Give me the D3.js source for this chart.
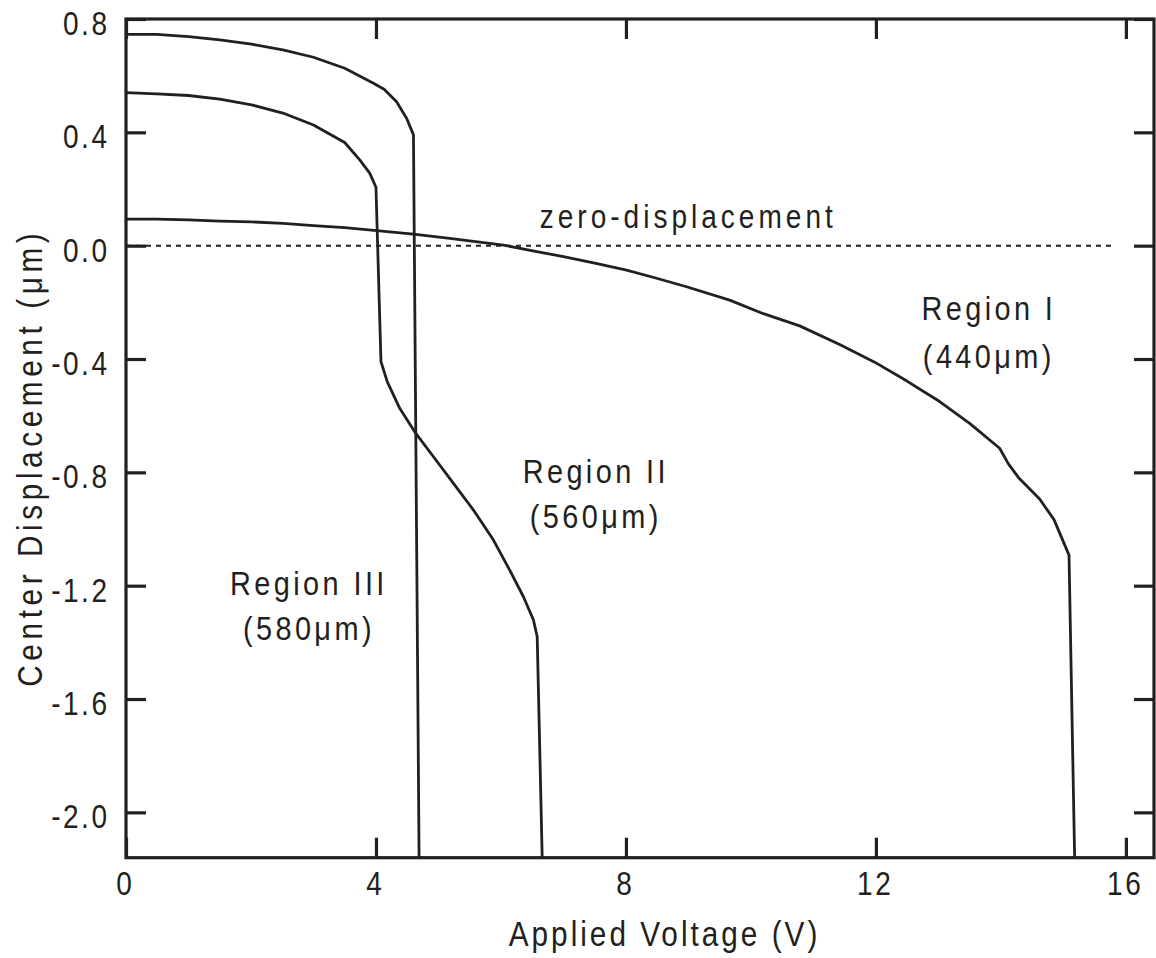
<!DOCTYPE html>
<html>
<head>
<meta charset="utf-8">
<script src="https://cdn.jsdelivr.net/npm/d3@7"></script>
<style>
  body { margin: 0; background: #fff; }
</style>
</head>
<body>
<svg id="chart"></svg>
<script>
// Tick values
var xTicks = [0, 4, 8, 12, 16];
var yTicks = [0.8, 0.4, 0.0, -0.4, -0.8, -1.2, -1.6, -2.0];

// Region I (440um)
var voltsI = [0, 0.49, 1.0, 1.5, 2.01, 2.51, 3.0, 3.5, 4.01, 4.6, 5.18, 6.04, 6.51, 7.0, 7.5, 8.01, 8.49, 8.97, 9.66, 10.2, 10.78, 11.42, 11.98, 12.49, 13.02, 13.5, 13.98, 14.12, 14.28, 14.62, 14.85, 15.09, 15.18];
var dispI  = [0.094, 0.094, 0.091, 0.087, 0.084, 0.079, 0.071, 0.064, 0.053, 0.041, 0.026, 0.002, -0.018, -0.039, -0.062, -0.086, -0.115, -0.145, -0.192, -0.24, -0.283, -0.349, -0.411, -0.477, -0.550, -0.627, -0.715, -0.770, -0.818, -0.894, -0.967, -1.092, -2.16];

// Region II (560um)
var voltsII = [0, 0.49, 1.0, 1.5, 2.01, 2.51, 3.0, 3.5, 3.74, 3.9, 4.0, 4.08, 4.18, 4.38, 4.62, 4.92, 5.24, 5.56, 5.88, 6.14, 6.36, 6.52, 6.58, 6.66];
var dispII  = [0.540, 0.536, 0.530, 0.517, 0.497, 0.468, 0.426, 0.364, 0.303, 0.256, 0.206, -0.409, -0.480, -0.574, -0.657, -0.745, -0.839, -0.933, -1.039, -1.145, -1.239, -1.321, -1.380, -2.16];

// Region III (580um)
var voltsIII = [0, 0.49, 1.0, 1.5, 2.01, 2.51, 3.0, 3.5, 3.96, 4.13, 4.33, 4.49, 4.6, 4.69];
var dispIII  = [0.746, 0.746, 0.738, 0.726, 0.711, 0.691, 0.665, 0.626, 0.573, 0.552, 0.508, 0.450, 0.391, -2.16];

var ink = "#231f20";
var font = "'Liberation Sans', Arial, Helvetica, sans-serif";
var squeeze = 0.85; // narrow look of the original lettering

var width = 1156, height = 958;
var plotL = 126, plotR = 1154, plotT = 19, plotB = 857.7;

var svg = d3.select("#chart").attr("width", width).attr("height", height);

var x = d3.scaleLinear().domain([0, 16.45]).range([plotL, plotR]);
var y = d3.scaleLinear().domain([-2.16, 0.8]).range([plotB, plotT]);

// narrow text helper: size, spacing in screen px
function label(px, py, str, size, spacing, anchor, rotate) {
    var g = svg.append("g")
        .attr("transform", "translate(" + px + "," + py + ")" + (rotate ? " rotate(" + rotate + ")" : "") + " scale(" + squeeze + ",1)");
    g.append("text")
        .attr("x", anchor === "middle" ? spacing / (2 * squeeze) : (anchor === "end" ? spacing / squeeze : 0))
        .attr("text-anchor", anchor)
        .attr("font-family", font)
        .attr("font-size", size)
        .attr("letter-spacing", spacing / squeeze)
        .attr("fill", ink)
        .text(str);
}

svg.append("clipPath").attr("id", "plot-clip")
    .append("rect").attr("x", plotL).attr("y", plotT).attr("width", plotR - plotL).attr("height", plotB - plotT);

// zero-displacement dotted line
svg.append("line")
    .attr("x1", x(0)).attr("x2", x(15.78))
    .attr("y1", y(0)).attr("y2", y(0))
    .attr("stroke", ink).attr("stroke-width", 2)
    .attr("stroke-dasharray", "5,5");

// curves
var line = d3.line()
    .x(function (d) { return x(d[0]); })
    .y(function (d) { return y(d[1]); });

[[voltsI, dispI], [voltsII, dispII], [voltsIII, dispIII]].forEach(function (s) {
    svg.append("path")
        .datum(d3.zip(s[0], s[1]))
        .attr("clip-path", "url(#plot-clip)")
        .attr("d", line)
        .attr("fill", "none")
        .attr("stroke", ink)
        .attr("stroke-width", 2.8)
        .attr("stroke-linejoin", "round");
});

// axes: ticks inward on all four sides, labels only bottom / left
var tickLen = 20;
var axes = [
    d3.axisBottom(x).tickValues(xTicks).tickSizeInner(-tickLen).tickSizeOuter(0).tickFormat(""),
    d3.axisTop(x).tickValues(xTicks).tickSizeInner(-tickLen).tickSizeOuter(0).tickFormat(""),
    d3.axisLeft(y).tickValues(yTicks).tickSizeInner(-tickLen).tickSizeOuter(0).tickFormat(""),
    d3.axisRight(y).tickValues(yTicks).tickSizeInner(-tickLen).tickSizeOuter(0).tickFormat("")
];
var shifts = ["0," + plotB, "0," + plotT, plotL + ",0", plotR + ",0"];
axes.forEach(function (a, i) {
    var g = svg.append("g").attr("transform", "translate(" + shifts[i] + ")").call(a);
    g.select(".domain").remove();
    g.selectAll(".tick line").attr("stroke", ink).attr("stroke-width", 3.2);
});

// frame
svg.append("rect")
    .attr("x", plotL).attr("y", plotT)
    .attr("width", plotR - plotL).attr("height", plotB - plotT)
    .attr("fill", "none").attr("stroke", ink).attr("stroke-width", 3.2);

// tick labels
xTicks.forEach(function (t) {
    label(x(t) - 2, 895, d3.format("d")(t), 33, 2.5, "middle");
});
yTicks.forEach(function (t) {
    label(107, y(t) + 16, d3.format(".1f")(t).replace("\u2212", "-"), 33, 2.5, "end");
});

// axis titles
label(663, 946, "Applied Voltage (V)", 35, 3, "middle");
label(42, 460, "Center Displacement (\u03bcm)", 35, 4.6, "middle", -90);

// annotations
label(x(6.62), y(0.0625), "zero-displacement", 33, 4, "start");
label(x(13.78), y(-0.262), "Region I", 34, 3.4, "middle");
label(x(13.78), y(-0.432), "(440\u03bcm)", 34, 3.4, "middle");
label(x(7.49), y(-0.838), "Region II", 34, 3.4, "middle");
label(x(7.49), y(-0.996), "(560\u03bcm)", 34, 3.4, "middle");
label(x(2.9), y(-1.233), "Region III", 34, 3.4, "middle");
label(x(2.9), y(-1.392), "(580\u03bcm)", 34, 3.4, "middle");
</script>
</body>
</html>
